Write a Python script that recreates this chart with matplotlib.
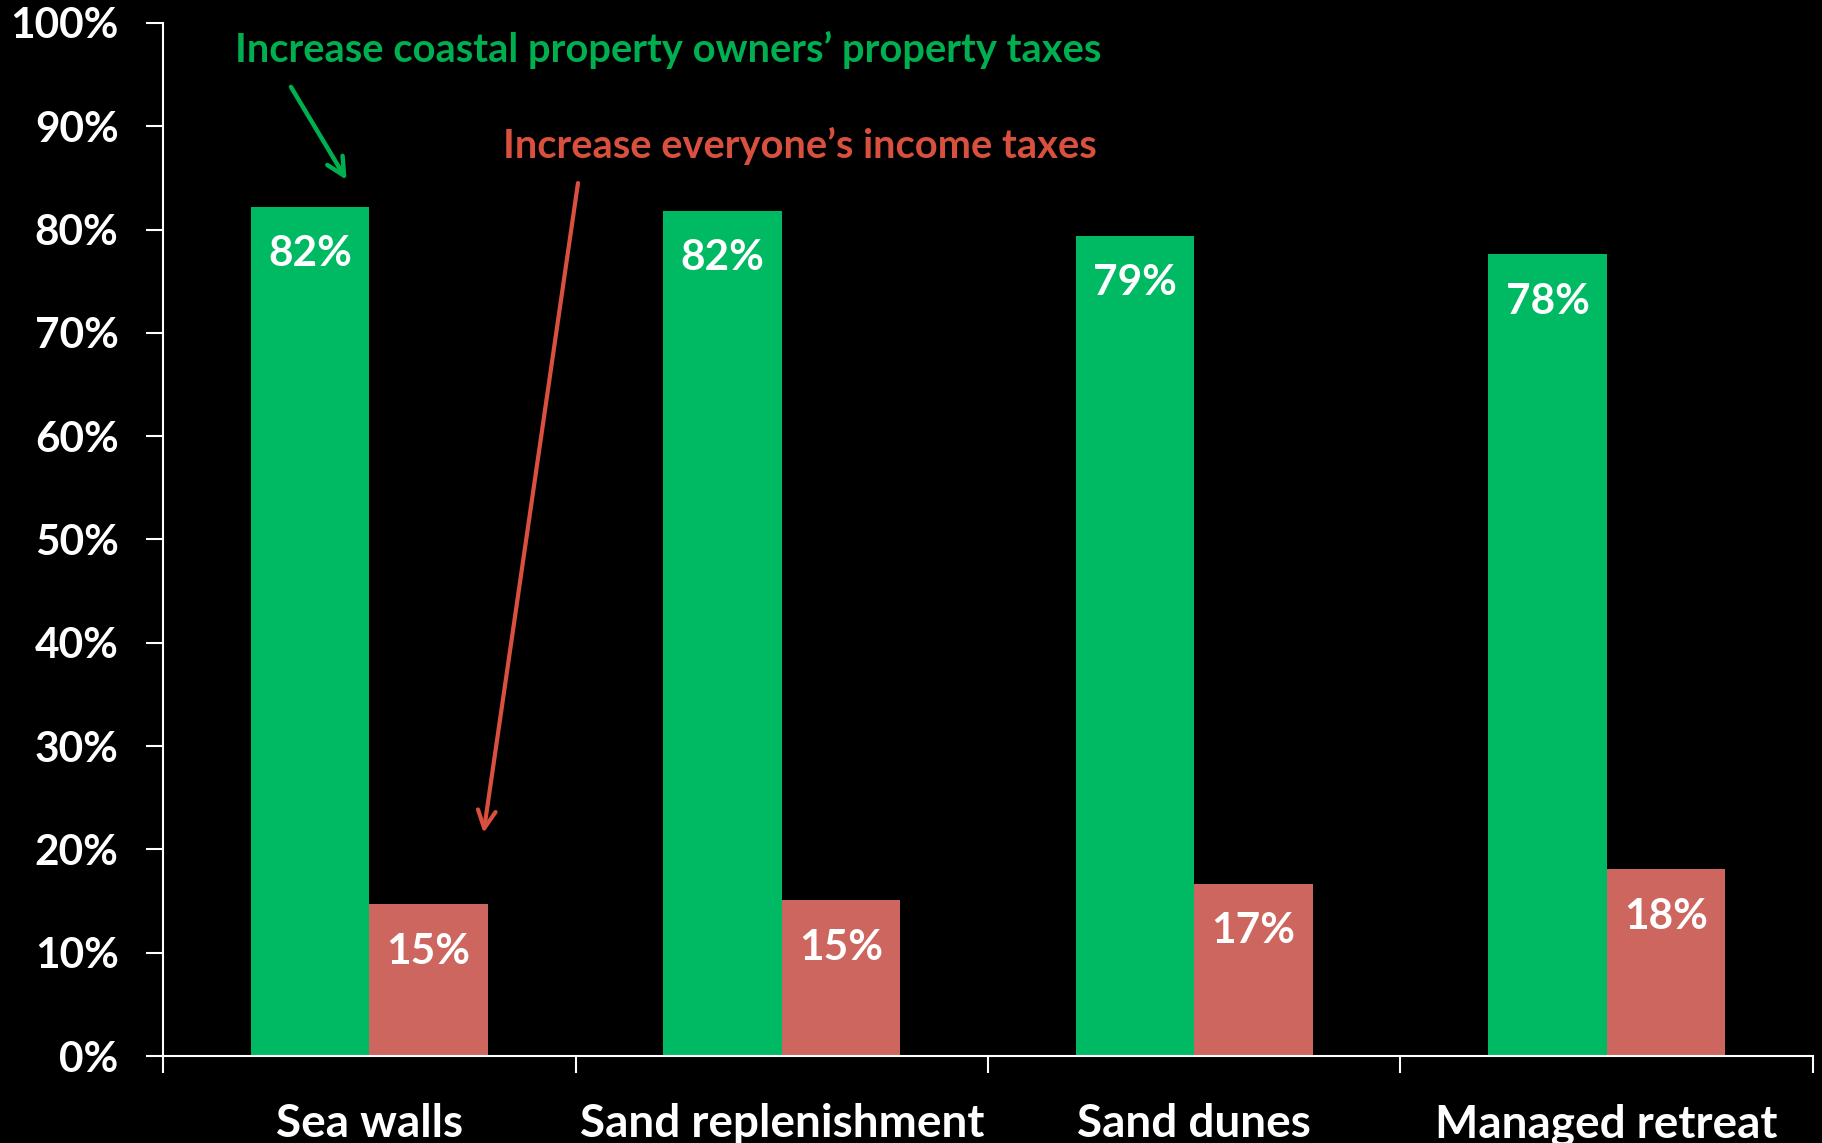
import numpy as np
import matplotlib
matplotlib.use("Agg")
import matplotlib.pyplot as plt

plt.rcParams['font.family'] = ['Lato', 'DejaVu Sans']

categories = ['Sea walls', 'Sand replenishment', 'Sand dunes', 'Managed retreat']
property_tax = [82.2, 81.8, 79.4, 77.6]   # increase coastal property owners' property taxes
income_tax = [14.7, 15.1, 16.7, 18.1]     # increase everyone's income taxes
yticks = list(range(0, 101, 10))

GREEN_BAR = '#00B963'
RED_BAR = '#CD665F'
GREEN_TXT = '#00B050'
RED_TXT = '#D9503E'

fig = plt.figure(figsize=(18.22, 11.43), dpi=100, facecolor='black')
ax = fig.add_axes([0.0895, 0.076, 0.9055, 0.904])
ax.set_facecolor('black')

x = np.arange(len(categories))
w = 0.287
ax.bar(x - w / 2, property_tax, width=w, color=GREEN_BAR)
ax.bar(x + w / 2, income_tax, width=w, color=RED_BAR)

for xi, v in zip(x, property_tax):
    ax.text(xi - w / 2, v - 4.6, f'{round(v)}%', ha='center', va='center',
            color='white', fontsize=30.5, fontweight='bold')
for xi, v in zip(x, income_tax):
    ax.text(xi + w / 2, v - 4.6, f'{round(v)}%', ha='center', va='center',
            color='white', fontsize=30.5, fontweight='bold')

ax.set_xlim(-0.5, len(categories) - 0.5)
ax.set_ylim(0, 100)

ax.set_yticks(yticks)
ax.set_yticklabels([f'{t}%' for t in yticks])
ax.tick_params(axis='y', colors='white', labelcolor='white', labelsize=30.5,
               length=12, width=1.5, pad=20)
for lab in ax.get_yticklabels():
    lab.set_fontweight('bold')

ax.set_xticks(x)
ax.set_xticklabels(categories)
ax.set_xticks(np.arange(-0.5, len(categories)), minor=True)
ax.tick_params(axis='x', which='major', length=0, labelsize=33, labelcolor='white', pad=34)
ax.tick_params(axis='x', which='minor', length=12, width=1.5, color='white')
for lab in ax.get_xticklabels():
    lab.set_fontweight('bold')

for side in ['top', 'right']:
    ax.spines[side].set_visible(False)
for side in ['left', 'bottom']:
    ax.spines[side].set_color('white')
    ax.spines[side].set_linewidth(1.5)

ax.text(0.725, 97.4, 'Increase coastal property owners\u2019 property taxes',
        ha='center', va='center', color=GREEN_TXT, fontsize=28.7, fontweight='bold')
ax.text(1.044, 88.1, 'Increase everyone\u2019s income taxes',
        ha='center', va='center', color=RED_TXT, fontsize=28.7, fontweight='bold')

ax.annotate('', xy=(-0.055, 84.8), xytext=(-0.19, 93.8),
            arrowprops=dict(arrowstyle='->', color=GREEN_TXT, lw=3.2,
                            mutation_scale=32, shrinkA=0, shrinkB=0))
ax.annotate('', xy=(0.277, 21.6), xytext=(0.506, 84.5),
            arrowprops=dict(arrowstyle='->', color=RED_TXT, lw=3,
                            mutation_scale=32, shrinkA=0, shrinkB=0))

fig.savefig('out.png', dpi=100, facecolor='black')
